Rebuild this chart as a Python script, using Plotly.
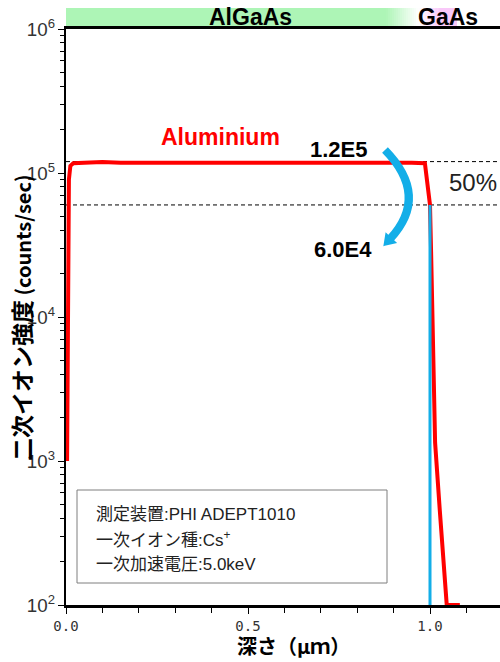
import plotly.graph_objects as go

# Depth profile of Al in an AlGaAs / GaAs structure (SIMS)
depth_um = [0.003, 0.005, 0.008, 0.012, 0.02, 0.05, 0.1, 0.15, 0.2, 0.25,
            0.3, 0.35, 0.4, 0.45, 0.5, 0.55, 0.6, 0.65, 0.7, 0.75,
            0.8, 0.85, 0.9, 0.95, 0.986, 0.997, 1.0, 1.003, 1.014, 1.027,
            1.046, 1.082]
al_counts = [1.0e3, 2.5e4, 9.0e4, 1.12e5, 1.17e5, 1.18e5, 1.19e5, 1.18e5, 1.18e5, 1.19e5,
             1.18e5, 1.18e5, 1.19e5, 1.18e5, 1.18e5, 1.19e5, 1.18e5, 1.18e5, 1.19e5, 1.18e5,
             1.18e5, 1.18e5, 1.19e5, 1.18e5, 1.17e5, 7.5e4, 6.0e4, 2.85e4, 1.34e3, 4.5e2,
             1.0e2, 1.0e2]

plateau_level = 1.2e5
half_level = 6.0e4
interface_depth = 1.0
floor_level = 1.0e2

layers = ["AlGaAs", "GaAs"]
conditions = ["測定装置:PHI ADEPT1010",
              "一次イオン種:Cs<sup>+</sup>",
              "一次加速電圧:5.0keV"]
x_title = "深さ（μｍ）"
y_title_jp = "二次イオン強度"
y_title_unit = "(counts/sec)"

W, H = 500, 662
L, R, T, B = 66, 0, 29, 57
X_MAX = (W - L - R) / 364.0

LATIN = "Liberation Sans, Noto Sans CJK JP, sans-serif"
BLUE = "#13aee8"


def px(x):
    return (x - L) / (W - L - R)


def py(y):
    return (H - B - y) / (H - T - B)


fig = go.Figure()

# reference levels (1.2E5 plateau and 50 % level)
for lvl in (plateau_level, half_level):
    fig.add_trace(go.Scatter(x=[0, X_MAX], y=[lvl, lvl], mode="lines",
                             line=dict(color="black", width=1, dash="4px,3px"),
                             hoverinfo="skip", showlegend=False))

fig.add_trace(go.Scatter(x=depth_um, y=al_counts, mode="lines",
                         line=dict(color="#ff0000", width=4),
                         name="Aluminium", showlegend=False))

fig.add_trace(go.Scatter(x=[interface_depth, interface_depth],
                         y=[half_level, floor_level], mode="lines",
                         line=dict(color=BLUE, width=3),
                         hoverinfo="skip", showlegend=False))

shapes = []
# layer band above the plot
band_y0, band_y1 = py(27.5), py(8)
shapes.append(dict(type="rect", xref="paper", yref="paper",
                   x0=px(L), x1=px(386), y0=band_y0, y1=band_y1,
                   fillcolor="#adf5b6", line=dict(width=0), layer="below"))
green = (173, 245, 182)
pink = (249, 200, 249)
n = 16
for i in range(n):
    xa = 386 + i * (418 - 386) / n
    xb = 386 + (i + 1) * (418 - 386) / n
    t = (i + 0.5) / n
    c = tuple(round(g + (255 - g) * t) for g in green)
    shapes.append(dict(type="rect", xref="paper", yref="paper",
                       x0=px(xa), x1=px(xb) + 0.0005, y0=band_y0, y1=band_y1,
                       fillcolor="rgb(%d,%d,%d)" % c, line=dict(width=0), layer="below"))
for i in range(n):
    xa = 418 + i * (440 - 418) / n
    xb = 418 + (i + 1) * (440 - 418) / n
    t = (i + 0.5) / n
    c = tuple(round(255 + (p - 255) * t) for p in pink)
    shapes.append(dict(type="rect", xref="paper", yref="paper",
                       x0=px(xa), x1=px(xb) + 0.0005, y0=band_y0, y1=band_y1,
                       fillcolor="rgb(%d,%d,%d)" % c, line=dict(width=0), layer="below"))
shapes.append(dict(type="rect", xref="paper", yref="paper",
                   x0=px(440), x1=px(457), y0=band_y0, y1=band_y1,
                   fillcolor="rgb(%d,%d,%d)" % pink, line=dict(width=0), layer="below"))

# curved arrow from the plateau level to the 50 % level
p0, pc, p1 = (385, 150), (430, 196), (390, 239)
shapes.append(dict(type="path", xref="paper", yref="paper",
                   path="M %f,%f Q %f,%f %f,%f" % (px(p0[0]), py(p0[1]), px(pc[0]), py(pc[1]),
                                                  px(p1[0]), py(p1[1])),
                   line=dict(color=BLUE, width=8), layer="above"))
dx, dy = p1[0] - pc[0], p1[1] - pc[1]
norm = (dx * dx + dy * dy) ** 0.5
ux, uy = dx / norm, dy / norm
tip = (p1[0] + ux * 8, p1[1] + uy * 8)
base = (p1[0] - ux * 1, p1[1] - uy * 1)
hw = 6
a = (base[0] + uy * hw, base[1] - ux * hw)
b = (base[0] - uy * hw, base[1] + ux * hw)
shapes.append(dict(type="path", xref="paper", yref="paper",
                   path="M %f,%f L %f,%f L %f,%f Z" % (px(tip[0]), py(tip[1]), px(a[0]), py(a[1]),
                                                       px(b[0]), py(b[1])),
                   fillcolor=BLUE, line=dict(color=BLUE, width=2), layer="above"))

# measurement-conditions box
shapes.append(dict(type="rect", xref="paper", yref="paper",
                   x0=px(77), x1=px(387), y0=py(583), y1=py(490),
                   line=dict(color="#7f7f7f", width=1), fillcolor="white", layer="above"))

annotations = [
    dict(text="<b>%s</b>" % layers[0], x=px(250), y=py(17), font=dict(size=23, color="black")),
    dict(text="<b>%s</b>" % layers[1], x=px(448), y=py(17), font=dict(size=23, color="black")),
    dict(text="<b>Aluminium</b>", x=px(220), y=py(137), font=dict(size=23, color="#ff0000")),
    dict(text="<b>%.1fE5</b>" % (plateau_level / 1e5), x=px(339), y=py(149),
         font=dict(size=22, color="black")),
    dict(text="<b>%.1fE4</b>" % (half_level / 1e4), x=px(343), y=py(249),
         font=dict(size=22, color="black")),
    dict(text="50%", x=px(473), y=py(182), font=dict(size=24, color="#222222")),
]
for a_ in annotations:
    a_.update(xref="paper", yref="paper", xanchor="center", yanchor="middle",
              showarrow=False)
    a_["font"]["family"] = LATIN
for i, line in enumerate(conditions):
    annotations.append(dict(text=line, xref="paper", yref="paper",
                            x=px(94), y=py(514 + i * 25), xanchor="left", yanchor="middle",
                            showarrow=False,
                            font=dict(size=17, color="#222222", family=LATIN)))

# axis titles
annotations.append(dict(text="<b>%s</b>" % x_title, xref="paper", yref="paper",
                        x=px(293), y=py(661), xanchor="center", yanchor="bottom",
                        borderpad=0, showarrow=False,
                        font=dict(size=20, color="black", family="Noto Sans CJK JP")))
annotations.append(dict(text="<b><span style='font-size:23px'>%s</span> %s</b>" % (y_title_jp, y_title_unit),
                        xref="paper", yref="paper", x=px(21), y=py(318),
                        xanchor="center", yanchor="middle", textangle=-90,
                        showarrow=False,
                        font=dict(size=20, color="black", family="Noto Sans CJK JP")))

fig.update_layout(
    width=W, height=H,
    margin=dict(l=L, r=R, t=T, b=B, pad=0),
    paper_bgcolor="white", plot_bgcolor="white",
    shapes=shapes, annotations=annotations,
    showlegend=False,
    xaxis=dict(range=[0, X_MAX], dtick=0.5, tick0=0, tickformat=".1f",
               ticks="outside", ticklen=6, tickwidth=1, tickcolor="black",
               minor=dict(dtick=0.1, ticks="outside", ticklen=5, tickcolor="black", showgrid=False),
               showgrid=False, zeroline=False, showline=True, linecolor="black",
               linewidth=2.5, mirror=True, layer="below traces",
               tickfont=dict(size=14, color="#333333", family="DejaVu Sans Mono")),
    yaxis=dict(type="log", range=[2, 6], dtick=1, exponentformat="power",
               ticks="outside", ticklen=6, tickwidth=1, tickcolor="black",
               minor=dict(dtick="D1", ticks="outside", ticklen=4, tickcolor="black", showgrid=False),
               showgrid=False, zeroline=False, showline=True, linecolor="black",
               linewidth=2, layer="below traces",
               tickfont=dict(size=15, color="#333333", family=LATIN)),
)

fig.write_html("out.html")
